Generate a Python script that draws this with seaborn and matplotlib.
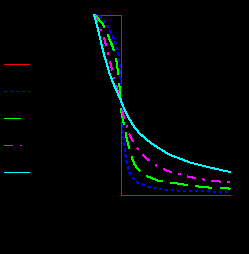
import numpy as np
import pandas as pd
import matplotlib
matplotlib.use("Agg")
import matplotlib.pyplot as plt
import seaborn as sns

# ---- data (x: 0..5, y: 0..1) ----
red_x = [0.0, 1.0, 1.0, 5.0]
red_y = [1.0, 1.0, 0.0, 0.0]

blue_x = [0.0, 0.203, 0.314, 0.424, 0.535, 0.646, 0.756, 0.830, 0.904, 0.941, 0.978,
          1.004, 1.026, 1.052, 1.089, 1.125, 1.199, 1.255, 1.310, 1.421, 1.605, 1.790,
          1.974, 2.159, 2.528, 2.970, 3.598, 4.188, 5.0]
blue_y = [1.0, 0.992, 0.978, 0.956, 0.928, 0.894, 0.856, 0.828, 0.778, 0.717, 0.639,
          0.544, 0.461, 0.378, 0.306, 0.250, 0.178, 0.139, 0.119, 0.094, 0.067, 0.056,
          0.044, 0.039, 0.028, 0.022, 0.017, 0.017, 0.011]

green_x = [0.0, 0.092, 0.203, 0.314, 0.424, 0.498, 0.572, 0.683, 0.756, 0.830, 0.867,
           0.904, 0.941, 0.978, 1.015, 1.063, 1.188, 1.247, 1.373, 1.494, 1.568, 1.679,
           1.790, 1.974, 2.343, 2.712, 3.081, 3.524, 4.188, 5.0]
green_y = [1.0, 0.989, 0.967, 0.950, 0.917, 0.889, 0.861, 0.822, 0.783, 0.739, 0.694,
           0.650, 0.594, 0.528, 0.444, 0.417, 0.322, 0.283, 0.211, 0.167, 0.150, 0.133,
           0.122, 0.100, 0.078, 0.067, 0.061, 0.050, 0.039, 0.033]

magenta_x = [0.0, 0.092, 0.203, 0.314, 0.387, 0.498, 0.572, 0.683, 0.756, 0.867, 0.941,
             0.978, 1.052, 1.125, 1.310, 1.494, 1.679, 1.937, 2.159, 2.491, 2.768, 3.450,
             3.819, 4.188, 4.631, 5.0]
magenta_y = [1.0, 0.972, 0.928, 0.889, 0.861, 0.794, 0.750, 0.683, 0.639, 0.578, 0.539,
             0.522, 0.456, 0.422, 0.333, 0.278, 0.239, 0.200, 0.172, 0.144, 0.128, 0.100,
             0.089, 0.078, 0.072, 0.067]

cyan_x = [0.0, 0.166, 0.277, 0.387, 0.572, 0.756, 0.941, 1.015, 1.125, 1.310, 1.494,
          1.679, 1.974, 2.343, 2.768, 3.524, 4.262, 5.0]
cyan_y = [1.0, 0.906, 0.833, 0.767, 0.672, 0.600, 0.539, 0.511, 0.472, 0.417, 0.372,
          0.339, 0.300, 0.261, 0.222, 0.178, 0.150, 0.125]

series_names = ["red", "blue", "green", "magenta", "cyan"]
series_data = {
    "red": (red_x, red_y),
    "blue": (blue_x, blue_y),
    "green": (green_x, green_y),
    "magenta": (magenta_x, magenta_y),
    "cyan": (cyan_x, cyan_y),
}

rows = []
for name in series_names:
    xs, ys = series_data[name]
    for xv, yv in zip(xs, ys):
        rows.append({"x": xv, "y": yv, "series": name})
df = pd.DataFrame(rows)

sns.set_theme(style="dark")
plt.rcParams["lines.scale_dashes"] = False
plt.rcParams["lines.antialiased"] = False
plt.rcParams["font.family"] = ["DejaVu Sans"]

palette = {"red": "#ff0000", "blue": "#0000ff", "green": "#00ff00",
           "magenta": "#ff00ff", "cyan": "#00ffff"}
dashes = {"red": "", "blue": (1.8, 2.5), "green": (12.2, 6.1),
          "magenta": (5.8, 5.3, 1.4, 5.3), "cyan": ""}

fig = plt.figure(figsize=(2.49, 2.55), dpi=100, facecolor="black")
ax = fig.add_axes([94.0 / 249, (255 - 195.5) / 255, 136.0 / 249, 180 / 255])
ax.set_facecolor("black")

sns.lineplot(data=df, x="x", y="y", hue="series", style="series",
             hue_order=series_names, style_order=series_names,
             palette=palette, dashes=dashes, estimator=None, sort=False,
             linewidth=0.6, legend=False, ax=ax)

for ln in ax.lines:
    ln.set_clip_on(False)
    ln.set_antialiased(False)

ax.set_xlim(0, 5)
ax.set_ylim(0, 1)
ax.axis("off")

leg = fig.legend(handles=list(ax.lines), labels=[" "] * 5,
                 loc="center left", bbox_to_anchor=(4 / 249, 1 - 120 / 255),
                 frameon=False, fontsize=9, handlelength=2.0, handletextpad=0.3,
                 labelspacing=1.12, borderpad=0, borderaxespad=0)
for t in leg.get_texts():
    t.set_color("black")
for ln in leg.get_lines():
    ln.set_antialiased(False)

fig.savefig("out.png", dpi=100, facecolor="black")
